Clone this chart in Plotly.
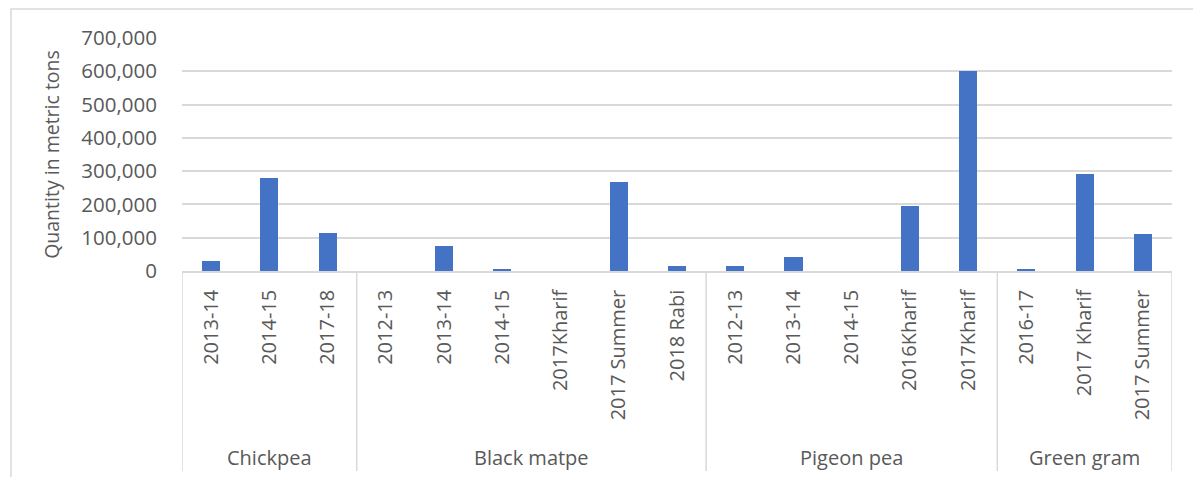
import plotly.graph_objects as go

groups = ["Chickpea", "Black matpe", "Pigeon pea", "Green gram"]
group_items = [
    ["2013-14", "2014-15", "2017-18"],
    ["2012-13", "2013-14", "2014-15", "2017Kharif", "2017 Summer", "2018 Rabi"],
    ["2012-13", "2013-14", "2014-15", "2016Kharif", "2017Kharif"],
    ["2016-17", "2017 Kharif", "2017 Summer"],
]
chickpea = [31000, 278000, 114000]
black_matpe = [0, 76000, 6000, 0, 267000, 15000]
pigeon_pea = [15000, 42000, 0, 196000, 602000]
green_gram = [7000, 291000, 111000]
series = [chickpea, black_matpe, pigeon_pea, green_gram]

labels = [lab for items in group_items for lab in items]
values = [v for s in series for v in s]
xpos = list(range(len(labels)))

FONT = "Open Sans"
GRAY = "#595959"
LINE = "#d9d9d9"

fig = go.Figure(go.Bar(
    x=xpos, y=values, marker_color="#4472c4",
    marker_line_width=0, width=0.31,
))

shapes = []
b = -0.5
bounds = [b]
for items in group_items:
    b += len(items)
    bounds.append(b)
for bx in bounds:
    shapes.append(dict(type="line", xref="x", yref="paper", x0=bx, x1=bx,
                       y0=0, y1=-200 / 233, line=dict(color=LINE, width=1.5)))
shapes.append(dict(type="rect", xref="paper", yref="paper",
                   x0=(11 - 182) / 990, x1=(1200 - 182) / 990,
                   y0=(271 - 480) / 233, y1=(271 - 9) / 233,
                   line=dict(color=LINE, width=1.5), fillcolor="rgba(0,0,0,0)",
                   layer="below"))

annotations = []
start = 0
for g, items in zip(groups, group_items):
    center = start + (len(items) - 1) / 2
    annotations.append(dict(x=center, xref="x", y=(271 - 457) / 233, yref="paper",
                            text=g, showarrow=False,
                            font=dict(family=FONT, size=20, color=GRAY),
                            xanchor="center", yanchor="middle"))
    start += len(items)

fig.update_layout(
    width=1193, height=477,
    margin=dict(l=182, r=21, t=38, b=206),
    paper_bgcolor="white", plot_bgcolor="white",
    showlegend=False,
    bargap=0,
    shapes=shapes,
    annotations=annotations,
    font=dict(family=FONT, color=GRAY, size=20),
    xaxis=dict(
        range=[-0.5, len(labels) - 0.5],
        tickmode="array", tickvals=xpos, ticktext=labels,
        tickangle=-90, ticks="outside", ticklen=9,
        tickcolor="rgba(0,0,0,0)",
        tickfont=dict(family=FONT, size=20, color=GRAY),
        showgrid=False, zeroline=False,
        showline=True, linecolor=LINE, linewidth=1.5,
    ),
    yaxis=dict(
        range=[0, 700000], dtick=100000, tickformat=",d",
        showgrid=True, gridcolor=LINE, gridwidth=1.5,
        zeroline=False, showline=False,
        ticks="outside", ticklen=20, tickcolor="rgba(0,0,0,0)",
        tickfont=dict(family=FONT, size=20.5, color=GRAY),
        title=dict(text="Quantity in metric tons",
                   font=dict(family=FONT, size=19.5, color=GRAY), standoff=16),
    ),
)

fig.write_html("out.html")
